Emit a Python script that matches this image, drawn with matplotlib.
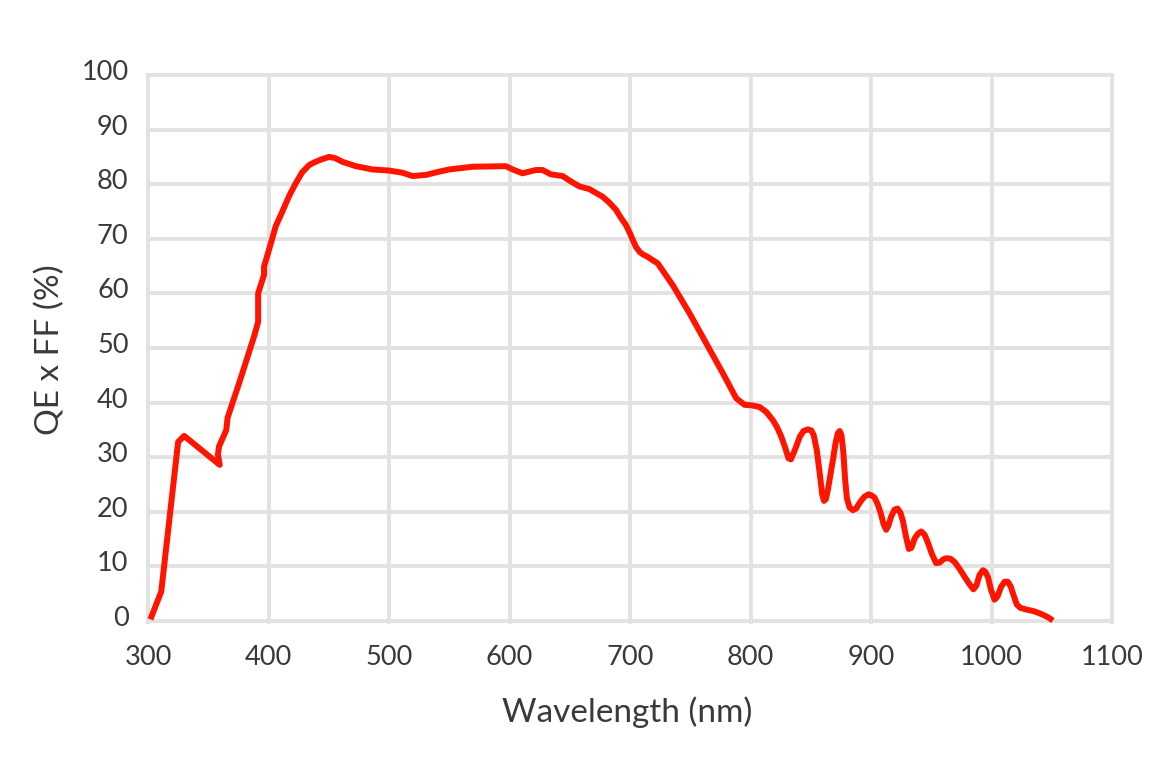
import matplotlib
matplotlib.use("Agg")
import matplotlib.pyplot as plt
from matplotlib.transforms import ScaledTranslation

# ---- data ----
wavelength = [302, 311, 325, 330, 359.5, 358, 359, 362, 365, 366, 377, 388, 391.4, 391.4,
              396.3, 396.3, 402, 406, 411.5, 417, 422.7, 428, 433.7, 438, 443.4, 450.3, 455,
              461.4, 472.5, 486.3, 500.2, 511.2, 519.5, 530.6, 541.7, 550, 569.4, 597, 602.6,
              610.8, 622, 627.5, 634.4, 644, 651, 658, 666.3, 677.3, 683, 688.4, 692, 696.7,
              700, 702.3, 705, 708, 711, 714.7, 718, 723, 735.5, 749.3, 763.2, 777, 788.1,
              795, 801, 807.5, 813, 818.5, 822, 825.5, 829, 831.5, 833.5, 835.5, 838, 841,
              844, 847.6, 850.5, 852.5, 855, 857.8, 859.5, 861, 862.5, 864.2, 866.5, 868.4,
              870.5, 872.5, 874, 875.5, 877, 878.5, 880, 882.2, 885, 887.7, 891, 894.7, 898,
              900.5, 903, 905.7, 908, 910.5, 912.6, 914.5, 916.7, 919.5, 922, 924.5, 926.5,
              929, 931.4, 933.5, 936.2, 939, 941.7, 944.5, 947.3, 950.5, 954, 957, 960,
              962.5, 966, 969.4, 973, 977.7, 981.5, 985, 987.5, 990, 992.9, 995, 997.1,
              999.5, 1002.5, 1005, 1008, 1011, 1013.5, 1016, 1018.5, 1021, 1024, 1029, 1035,
              1040, 1046, 1051]
qe_ff = [0.3, 5.4, 32.8, 33.9, 28.6, 30.5, 32.0, 33.5, 35.0, 37.2, 44.5, 52.1, 54.8, 60.0,
         63.4, 64.9, 69.2, 72.3, 75.0, 77.8, 80.2, 82.2, 83.5, 84.0, 84.5, 85.0, 84.8,
         84.1, 83.3, 82.7, 82.5, 82.1, 81.5, 81.7, 82.3, 82.7, 83.2, 83.3, 82.7,
         82.0, 82.6, 82.6, 81.8, 81.5, 80.5, 79.6, 79.1, 77.7, 76.6, 75.3, 74.0, 72.5,
         71.0, 69.8, 68.5, 67.6, 67.1, 66.7, 66.2, 65.5, 61.5, 56.4, 50.9, 45.4, 40.8,
         39.6, 39.5, 39.2, 38.3, 36.8, 35.5, 33.8, 31.6, 29.8, 29.6, 30.6, 32.0, 33.8,
         34.8, 35.1, 34.9, 34.0, 31.3, 26.4, 23.2, 22.0, 22.3, 24.0, 27.0, 29.5,
         32.5, 34.4, 34.8, 34.0, 31.0, 26.0, 22.5, 20.8, 20.3, 20.6, 21.8, 22.8, 23.2,
         23.0, 22.6, 21.3, 19.8, 17.7, 16.7, 17.5, 19.1, 20.4, 20.6, 19.8, 18.3,
         15.5, 13.2, 13.4, 15.1, 16.0, 16.4, 15.8, 14.3, 12.3, 10.6, 10.7, 11.3,
         11.5, 11.4, 10.8, 9.7, 8.1, 6.8, 5.8, 6.5, 8.4, 9.3, 9.0, 8.0,
         5.8, 3.9, 4.5, 6.3, 7.2, 7.2, 6.3, 4.6, 3.0, 2.4, 2.1, 1.8,
         1.4, 0.8, 0.1]

x_ticks = [300, 400, 500, 600, 700, 800, 900, 1000, 1100]
y_ticks = [0, 10, 20, 30, 40, 50, 60, 70, 80, 90, 100]
x_label = "Wavelength (nm)"
y_label = "QE x FF (%)"

# ---- styling ----
plt.rcParams['font.family'] = ['Lato', 'DejaVu Sans']
text_color = '#3a3a3a'
grid_color = '#e2e2e2'
line_color = '#ff1400'

W, H, DPI = 1152, 768, 100
fig = plt.figure(figsize=(W / DPI, H / DPI), dpi=DPI)
left, right, top, bottom = 148, 1112, 75, 621
ax = fig.add_axes([left / W, 1 - bottom / H, (right - left) / W, (bottom - top) / H])

ax.set_xlim(x_ticks[0], x_ticks[-1])
ax.set_ylim(y_ticks[0], y_ticks[-1])

for s in ax.spines.values():
    s.set_visible(False)

# grid drawn unclipped so the edge lines are full width
ax.hlines(y_ticks, x_ticks[0], x_ticks[-1], colors=grid_color, linewidth=2.8,
          clip_on=False, zorder=1)
ax.vlines(x_ticks, y_ticks[0] - 0.5, y_ticks[-1] + 0.3, colors=grid_color, linewidth=2.8,
          clip_on=False, zorder=1)

ax.plot(wavelength, qe_ff, color=line_color, linewidth=4.3, clip_on=False, zorder=3,
        solid_joinstyle='round', solid_capstyle='butt')

ax.set_xticks(x_ticks)
ax.set_yticks(y_ticks)
ax.set_xticklabels([str(v) for v in x_ticks])
ax.set_yticklabels([str(v) for v in y_ticks])
ax.tick_params(axis='both', length=0, labelsize=19.5, labelcolor=text_color)
ax.tick_params(axis='x', pad=17)
ax.tick_params(axis='y', pad=14)
for lab in ax.get_yticklabels():
    lab.set_transform(lab.get_transform() + ScaledTranslation(0, 5 / DPI, fig.dpi_scale_trans))

fig.text(627 / W, 1 - 712 / H, x_label, ha='center', va='center', fontsize=24,
         color=text_color)
fig.text(50 / W, 1 - 350 / H, y_label, ha='center', va='center', rotation=90,
         fontsize=24, color=text_color)

fig.savefig("out.png", dpi=DPI, facecolor='white')
